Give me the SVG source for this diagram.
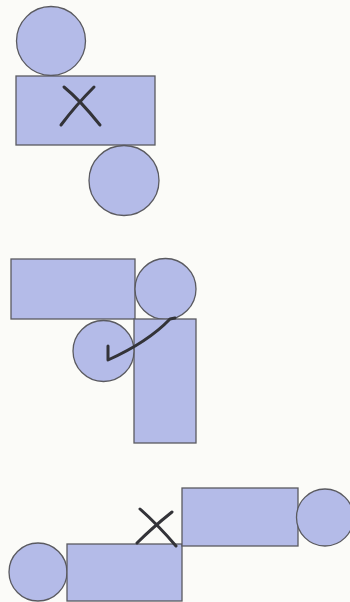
<svg xmlns="http://www.w3.org/2000/svg" width="350" height="602" viewBox="0 0 350 602">
<style>
.s{fill:#b4bbe8;stroke:#5a5a60;stroke-width:1.3}
.m{fill:none;stroke:#333338;stroke-width:3;stroke-linecap:round;stroke-linejoin:round}
</style>
<rect width="350" height="602" fill="#fbfbf8"/>
<g id="fig1">
<circle class="s" cx="51" cy="41" r="34.5"/>
<rect class="s" x="16" y="76" width="139" height="69"/>
<circle class="s" cx="124" cy="180.5" r="35"/>
<path class="m" d="M64 87 Q80 100 100 125 M94 87 Q76 105 61 125"/>
</g>
<g id="fig2">
<rect class="s" x="11" y="259" width="124" height="60"/>
<circle class="s" cx="165.5" cy="289" r="30.5"/>
<rect class="s" x="134" y="319" width="62" height="124"/>
<circle class="s" cx="103.5" cy="351" r="30.5"/>
<path class="m" d="M108 346 L108 360 Q148 342 170 319 L175 318"/>
</g>
<g id="fig3">
<circle class="s" cx="38" cy="572" r="29"/>
<rect class="s" x="67" y="544" width="115" height="57"/>
<rect class="s" x="182" y="488" width="116" height="58"/>
<circle class="s" cx="325" cy="517.5" r="28.5"/>
<path class="m" d="M140 509 Q158 525 176 546 M172 512 Q152 528 137 543"/>
</g>
</svg>
